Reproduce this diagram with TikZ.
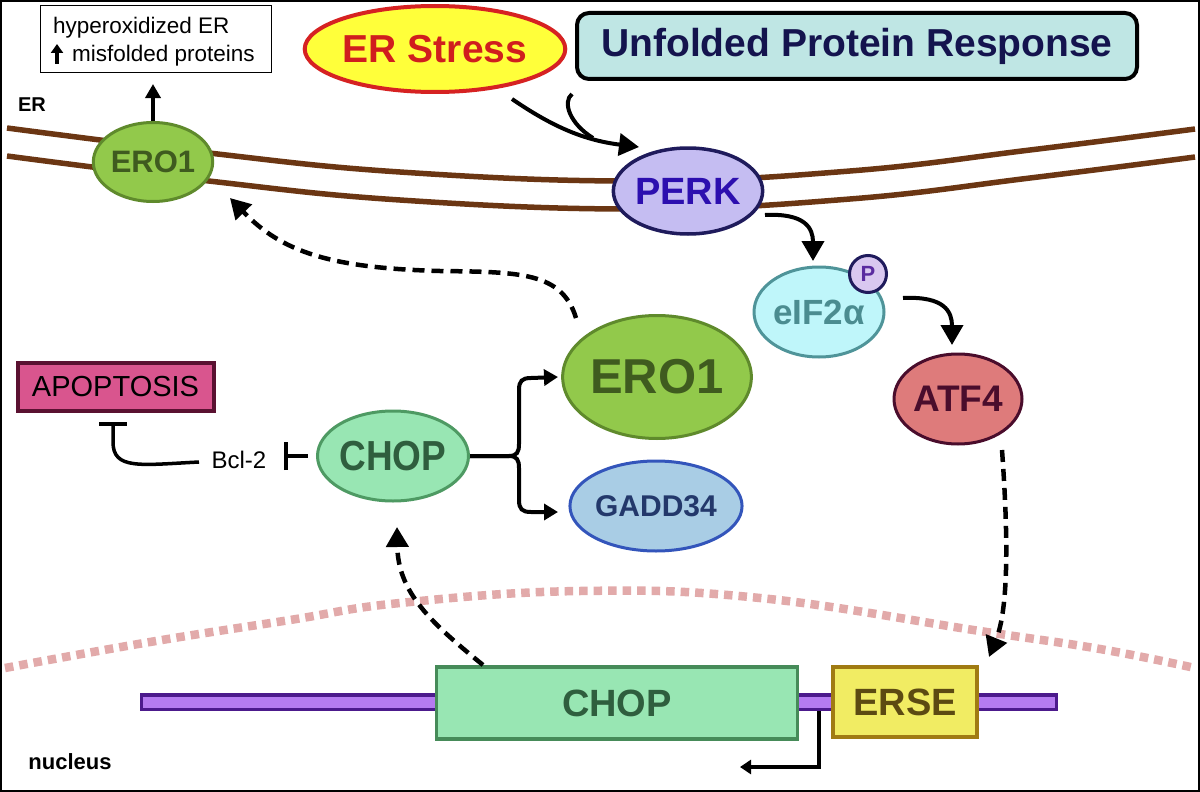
\documentclass[tikz,border=0pt]{standalone}
\usepackage{fontspec}
\setmainfont{Liberation Sans}
\usetikzlibrary{arrows.meta,shapes.geometric}
\definecolor{eroF}{HTML}{92C94B}
\definecolor{eroD}{HTML}{5F8A2C}
\definecolor{eroT}{HTML}{3F5B1F}
\definecolor{chopF}{HTML}{98E6B3}
\definecolor{chopD}{HTML}{4E9A63}
\definecolor{chopT}{HTML}{2F5E3E}
\definecolor{gadF}{HTML}{A9CDE5}
\definecolor{gadD}{HTML}{3355BB}
\definecolor{gadT}{HTML}{23386B}
\definecolor{atfF}{HTML}{DE7B7B}
\definecolor{atfD}{HTML}{4A0D2C}
\definecolor{eifF}{HTML}{BFF6FA}
\definecolor{eifD}{HTML}{4F9499}
\definecolor{eifT}{HTML}{4B8C90}
\definecolor{perkF}{HTML}{C5BDF2}
\definecolor{perkD}{HTML}{1F1B5C}
\definecolor{perkT}{HTML}{2C0FAF}
\definecolor{pF}{HTML}{D9C8F0}
\definecolor{pT}{HTML}{5A2BA0}
\definecolor{apoF}{HTML}{D9558E}
\definecolor{apoD}{HTML}{5A1131}
\definecolor{erseF}{HTML}{F1EC63}
\definecolor{erseD}{HTML}{A07B12}
\definecolor{erseT}{HTML}{5C4A12}
\definecolor{dnaF}{HTML}{B57BF0}
\definecolor{dnaD}{HTML}{4C1A8C}
\definecolor{memb}{HTML}{6B3613}
\definecolor{nucl}{HTML}{E2AAAA}
\definecolor{uprF}{HTML}{BFE6E4}
\definecolor{uprT}{HTML}{14144E}
\definecolor{ersF}{HTML}{FFFF3A}
\definecolor{ersD}{HTML}{D62222}
\definecolor{ersT}{HTML}{D01E1E}
\begin{document}
\begin{tikzpicture}[x=1pt,y=-1pt,
  arr/.style={line width=4pt, -{Triangle[length=20pt,width=22pt]}},
  sarr/.style={line width=4pt, -{Triangle[length=14pt,width=16pt]}},
  darr/.style={line width=4.5pt, dash pattern=on 12pt off 7pt, -{Triangle[length=20pt,width=22pt]}},
  inh/.style={line width=4pt, -{Bar[width=28pt]}},
  ell/.style={ellipse, inner sep=0pt, line width=3pt},
  membrane/.style={line width=5.5pt, color=memb},
  gene/.style={rectangle, inner sep=0pt, line width=3.5pt},
]
\useasboundingbox (0,0) rectangle (1200,792);
\fill[white] (0,0) rectangle (1200,792);
\draw[line width=1.5pt] (1,1) rectangle (1199,791);

% ER membrane
\foreach \dy in {0,28}{
  \draw[membrane, shift={(0,\dy)}] plot[smooth, tension=0.7] coordinates {(7,128) (200,152) (400,172) (640,181) (850,171) (1030,150) (1195,129)};
}
% nucleus envelope
\draw[line width=8.5pt, color=nucl, dash pattern=on 8.5pt off 6pt] plot[smooth, tension=0.7] coordinates {(5,668) (150,642) (290,620) (400,603) (580,591) (760,598) (980,631) (1100,649) (1195,668)};

% labels
\node[font=\bfseries\fontsize{20}{24}\selectfont] (erlab) at (32,105) {ER};
\node[font=\bfseries\fontsize{22}{26}\selectfont] (nuclab) at (70,762) {nucleus};

% hyperoxidized box
\node[draw, line width=1.5pt, minimum width=231pt, minimum height=67pt, inner sep=0pt] (hbox) at (156,39) {};
\node[anchor=base west, inner sep=0pt, font=\fontsize{22.5}{26}\selectfont] (h1) at (53,34) {hyperoxidized ER};
\node[anchor=base west, inner sep=0pt, font=\fontsize{22.5}{26}\selectfont] (h2) at (72,62) {misfolded proteins};
\draw[line width=3.5pt, -{Triangle[length=9pt,width=12pt]}] (57,64) -- (57,44);

% top nodes
\node[ell, line width=4pt, fill=ersF, draw=ersD, text=ersT, minimum width=224pt, minimum height=86pt, font=\bfseries\fontsize{39}{44}\selectfont] (ers) at (435,49) {ER Stress};
\node[draw=black, line width=4pt, rounded corners=12pt, fill=uprF, minimum width=560pt, minimum height=66pt, inner sep=0pt, text=uprT, font=\bfseries\fontsize{39}{44}\selectfont] (upr) at (857,46) {Unfolded Protein Response};

% membrane proteins
\node[ell, fill=eroF, draw=eroD, text=eroT, minimum width=111pt, minimum height=79pt, font=\bfseries\fontsize{31}{34}\selectfont] (eroS) at (153,162) {ERO1};
\node[ell, fill=perkF, draw=perkD, text=perkT, line width=3.5pt, minimum width=132pt, minimum height=86pt, font=\bfseries\fontsize{38}{42}\selectfont] (perk) at (688,191) {PERK};

% cytosol nodes
\node[ell, fill=eifF, draw=eifD, text=eifT, minimum width=130pt, minimum height=90pt, font=\bfseries\fontsize{35}{40}\selectfont] (eif) at (819,312) {eIF2α};
\node[circle, inner sep=0pt, fill=pF, draw=perkD, line width=3pt, minimum size=37pt, text=pT, font=\bfseries\fontsize{22}{24}\selectfont] (p) at (868,274) {P};
\node[ell, fill=atfF, draw=atfD, text=atfD, minimum width=128pt, minimum height=90pt, font=\bfseries\fontsize{37}{42}\selectfont] (atf) at (958,399) {ATF4};
\node[ell, fill=eroF, draw=eroD, text=eroT, minimum width=178pt, minimum height=123pt, font=\bfseries\fontsize{49}{54}\selectfont] (eroB) at (657,377) {ERO1};
\node[ell, fill=gadF, draw=gadD, text=gadT, minimum width=140pt, minimum height=90pt, font=\bfseries\fontsize{30}{34}\selectfont] (gad) at (656,506) {GADD34};
\node[ell, fill=chopF, draw=chopD, text=chopT, minimum width=126pt, minimum height=90pt, font=\bfseries\fontsize{42}{46}\selectfont] (chopP) at (393,456) {\scalebox{0.88}[1]{CHOP}};
\node[inner sep=0pt, font=\fontsize{24}{28}\selectfont] (bcl) at (239,460) {Bcl-2};
\node[rectangle, fill=apoF, draw=apoD, line width=4pt, minimum width=196pt, minimum height=48pt, inner sep=0pt, font=\fontsize{29}{32}\selectfont] (apo) at (115.5,386.5) {APOPTOSIS};

% DNA and genes
\node[rectangle, fill=dnaF, draw=dnaD, line width=3.5pt, minimum width=915pt, minimum height=14.5pt, inner sep=0pt] (dna) at (599,702) {};
\node[gene, fill=chopF, draw=chopD!90!black, text=chopT, minimum width=361pt, minimum height=72pt, font=\bfseries\fontsize{38}{42}\selectfont] (chopG) at (617,703) {CHOP};
\node[gene, fill=erseF, draw=erseD, text=erseT, minimum width=144pt, minimum height=70pt, font=\bfseries\fontsize{38}{42}\selectfont] (erse) at (905,702) {ERSE};

% coordinates for connector ends
\coordinate (ersOut) at (512,99);
\coordinate (uprOut) at (572,94);
\coordinate (join) at (593,138);
\coordinate (perkIn) at (639,147);
\coordinate (perkOut) at (765,215);
\coordinate (eifIn) at (813,261);
\coordinate (eifOut) at (903,298);
\coordinate (atfIn) at (952,345);
\coordinate (atfOut) at (1002,450);
\coordinate (erseIn) at (989,657);
\coordinate (chopGOut) at (483,665);
\coordinate (chopPIn) at (397,527);
\coordinate (eroBOut) at (576,318);
\coordinate (eroSIn) at (230,198);
\coordinate (eroBIn) at (558,377);
\coordinate (gadIn) at (558,512);
\coordinate (tss) at (819,711);
\coordinate (tssEnd) at (740,767);
\coordinate (bclOut) at (199,462);
\coordinate (apoBar) at (113,422);
\coordinate (eroSup) at (153,84);

% ERO1 -> hyperoxidized box
\draw[line width=4pt, -{Triangle[length=14pt,width=15pt]}] (eroS.north) -- (eroSup);

% ER stress -> PERK
\draw[arr] (ersOut) .. controls (550,125) and (582,140) .. (perkIn);
\draw[line width=4pt] (uprOut) .. controls (562,102) and (570,124) .. (join);

% PERK -> eIF2a -> ATF4
\draw[arr] (perkOut) .. controls (805,213) and (813,228) .. (eifIn);
\draw[arr] (eifOut) .. controls (945,296) and (952,312) .. (atfIn);

% ATF4 -> ERSE
\draw[darr] (atfOut) .. controls (1010,560) and (1006,615) .. (erseIn);

% CHOP gene -> CHOP protein
\draw[darr] (chopGOut) .. controls (430,622) and (398,592) .. (chopPIn);

% ERO1 (big) -> ERO1 (ER)
\draw[darr] (eroBOut) .. controls (562,272) and (520,272) .. (440,271) .. controls (330,268) and (282,252) .. (eroSIn);

% CHOP -> ERO1 / GADD34
\draw[sarr] (chopP.east) -- (509,456) .. controls (517,456) and (519,452) .. (519,444) -- (519,390) .. controls (519,381) and (522,378) .. (531,378) -- (eroBIn);
\draw[sarr] (chopP.east) -- (509,456) .. controls (517,456) and (519,460) .. (519,468) -- (519,500) .. controls (519,509) and (522,512) .. (531,512) -- (gadIn);

% CHOP -| Bcl-2 -| APOPTOSIS
\draw[inh, shorten <=8pt, shorten >=17pt] (chopP.west) -- (chopP.west -| bcl.east);
\draw[line width=3.5pt, -{Bar[width=28pt]}] (bclOut) .. controls (140,465) and (113,470) .. (113,442) -- (apoBar);

% transcription start
\draw[line width=3.5pt, -{Triangle[length=11pt,width=14pt]}] (tss) -- (tss |- tssEnd) -- (tssEnd);
\end{tikzpicture}
\end{document}
